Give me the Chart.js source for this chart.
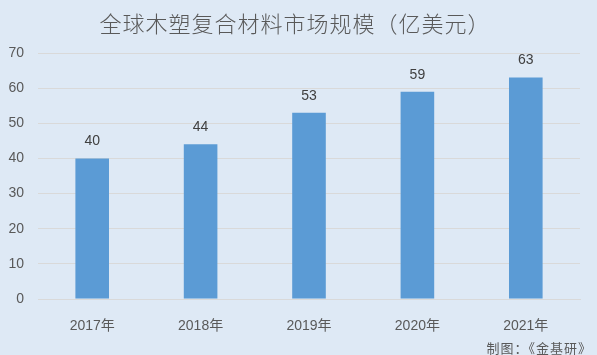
<!DOCTYPE html>
<html>
<head>
<meta charset="utf-8">
<script src="https://cdn.jsdelivr.net/npm/chart.js@4"></script>
<style>
  html, body { margin: 0; padding: 0; background: #dee9f5; }
</style>
</head>
<body>
<canvas id="chart" width="597" height="355"></canvas>
<script>
var years = ['2017年', '2018年', '2019年', '2020年', '2021年'];
var marketSize = [40, 44, 53, 59, 63];
var yTicks = [0, 10, 20, 30, 40, 50, 60, 70];

var fontFamily = '"Liberation Sans", "Noto Sans CJK SC", sans-serif';
var cjkFont = '"Noto Sans CJK SC", sans-serif';
var textColor = '#595959';

// value above each bar, plus title and source note
var extras = {
    id: 'extras',
    afterDatasetsDraw: function(chart) {
        var ctx = chart.ctx;
        var meta = chart.getDatasetMeta(0);
        ctx.save();
        ctx.font = '14px ' + fontFamily;
        ctx.fillStyle = '#404040';
        ctx.textAlign = 'center';
        ctx.textBaseline = 'middle';
        meta.data.forEach(function(bar, i) {
            ctx.fillText(marketSize[i], bar.x, bar.y - 17);
        });

        ctx.font = '300 22px ' + cjkFont;
        ctx.fillStyle = textColor;
        ctx.letterSpacing = '1px';
        ctx.fillText('全球木塑复合材料市场规模（亿美元）', 295, 24);

        ctx.font = '13px ' + cjkFont;
        ctx.textAlign = 'right';
        ctx.fillText('制图：《金基研》', 592, 348);
        ctx.restore();
    }
};

var ctx = document.getElementById('chart').getContext('2d');
new Chart(ctx, {
    type: 'bar',
    data: {
        labels: years,
        datasets: [{
            data: marketSize,
            backgroundColor: '#5b9bd5',
            categoryPercentage: 1,
            barPercentage: 0.31
        }]
    },
    options: {
        responsive: false,
        animation: false,
        layout: { padding: { left: 8, right: 17, top: 53, bottom: 0 } },
        plugins: {
            legend: { display: false },
            tooltip: { enabled: false },
            title: { display: false }
        },
        scales: {
            x: {
                grid: { display: false },
                border: { color: '#d9d9d9' },
                afterFit: function(axis) { axis.height = 56; },
                ticks: { color: textColor, font: { family: fontFamily, size: 14 }, padding: 11 }
            },
            y: {
                min: 0,
                max: 70,
                afterBuildTicks: function(axis) {
                    axis.ticks = yTicks.map(function(v) { return { value: v }; });
                },
                afterFit: function(axis) { axis.width = 30; },
                grid: { color: '#d9d9d9', drawTicks: false },
                border: { display: false },
                ticks: { color: textColor, font: { family: fontFamily, size: 14 }, padding: 14 }
            }
        }
    },
    plugins: [extras]
});
</script>
</body>
</html>
